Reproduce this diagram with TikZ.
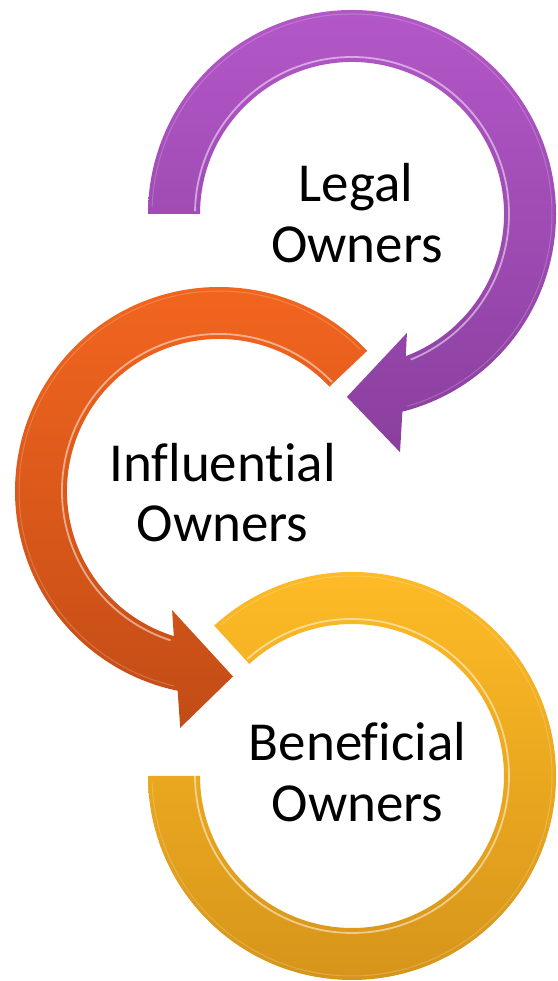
\documentclass[tikz,border=0pt]{standalone}
\usepackage{fontspec}
\setmainfont{Carlito}[Ligatures=NoCommon]
\definecolor{purpleTop}{HTML}{B357C8}
\definecolor{purpleBot}{HTML}{8A3F9E}
\definecolor{orangeTop}{HTML}{F4661F}
\definecolor{orangeBot}{HTML}{C24C16}
\definecolor{yellowTop}{HTML}{FEBB26}
\definecolor{yellowBot}{HTML}{D6951A}
\tikzset{
  lbl/.style={anchor=base, inner sep=0pt, font=\fontsize{55}{60}\selectfont, text=black},
  shine/.style={draw=white, line width=1.8pt, opacity=0.5},
  rim/.style={draw=white, line width=1pt, opacity=0.2}
}
\begin{document}
\begin{tikzpicture}[x=1pt,y=1pt]
\useasboundingbox (0,0) rectangle (557,981);
\fill[white] (0,0) rectangle (557,981);
\coordinate (P) at (352,767);
\coordinate (O) at (219,490);
\coordinate (Y) at (352,205);

% yellow ring
\begin{scope}[shift={(Y)}]
  \shade[top color=yellowTop, bottom color=yellowBot]
    (-180:204pt) arc[start angle=-180, end angle=132.5, radius=204pt]
    -- (132.5:152pt) arc[start angle=132.5, end angle=-180, radius=152pt] -- cycle;
  \draw[shine] (132:157pt) arc[start angle=132, end angle=-180, radius=157pt];
  \draw[rim] (-178:200pt) arc[start angle=-178, end angle=131, radius=200pt];
\end{scope}

% orange arrow
\begin{scope}[shift={(O)}]
  \shade[top color=orangeTop, bottom color=orangeBot]
    (43.4:204pt) arc[start angle=43.4, end angle=258.3, radius=204pt]
    -- (260.7:240pt) -- (274.3:186pt) -- (248.5:128pt)
    -- (252.7:152pt) arc[start angle=252.7, end angle=43.4, radius=152pt] -- cycle;
  \draw[shine] (252:157pt) arc[start angle=252, end angle=44, radius=157pt];
  \draw[rim] (45:200pt) arc[start angle=45, end angle=257, radius=200pt];
\end{scope}

% purple arrow
\begin{scope}[shift={(P)}]
  \shade[top color=purpleTop, bottom color=purpleBot]
    (180:204pt) arc[start angle=180, end angle=-75.7, radius=204pt]
    -- (-78.6:243pt) -- (-91.6:183pt) -- (-65.2:131pt)
    -- (-69.3:152pt) arc[start angle=-69.3, end angle=180, radius=152pt] -- cycle;
  \draw[shine] (179:157pt) arc[start angle=179, end angle=-68, radius=157pt];
  \draw[rim] (178:200pt) arc[start angle=178, end angle=-74, radius=200pt];
\end{scope}

% labels
\node[lbl] (legal) at (356,779) {Legal};
\node[lbl] (legalo) at (357,718) {Owners};
\node[lbl] (infl) at (222.5,499) {Influential};
\node[lbl] (inflo) at (222.5,439) {Owners};
\node[lbl] (bene) at (357.5,220) {Beneficial};
\node[lbl] (beneo) at (357.5,159) {Owners};
\end{tikzpicture}
\end{document}
